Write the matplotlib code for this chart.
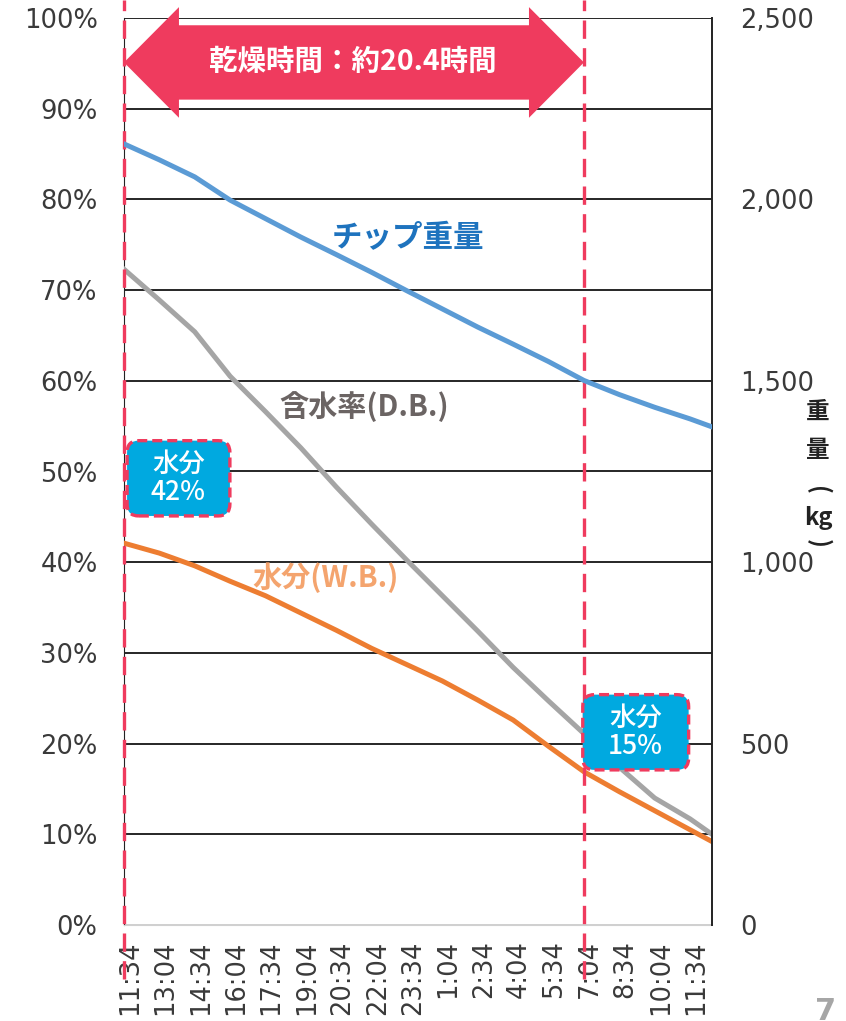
import numpy as np
import matplotlib
matplotlib.use("Agg")
import matplotlib.pyplot as plt
from matplotlib.patches import Polygon, FancyBboxPatch
from matplotlib.transforms import ScaledTranslation

plt.rcParams['font.family'] = ['DejaVu Sans', 'Noto Sans CJK JP']
JP = ['Noto Sans CJK JP', 'DejaVu Sans']

# --- données (heures depuis 11:34) ---
t_heures = [0, 1.5, 3, 4.5, 6, 7.5, 9, 10.5, 12, 13.5, 15, 16.5, 18, 19.5,
            21, 22.5, 24, 24.93]
poids_kg = [2153, 2109, 2062, 1998, 1947, 1896, 1848, 1799, 1748, 1698,
            1648, 1601, 1553, 1501, 1462, 1427, 1395, 1373]
teneur_db = [72.3, 68.9, 65.4, 60.5, 56.6, 52.6, 48.3, 44.2, 40.2, 36.3,
             32.4, 28.4, 24.7, 21.1, 17.4, 14.0, 11.7, 10.0]
teneur_wb = [42.1, 41.0, 39.6, 37.9, 36.3, 34.4, 32.5, 30.5, 28.7, 26.9,
             24.8, 22.6, 19.7, 16.9, 14.7, 12.6, 10.5, 9.2]

ticks_heures = [0, 1.5, 3, 4.5, 6, 7.5, 9, 10.5, 12, 13.5, 15, 16.5, 18,
                19.5, 21, 22.5, 24]
ticks_labels = ["11:34", "13:04", "14:34", "16:04", "17:34", "19:04",
                "20:34", "22:04", "23:34", "1:04", "2:34", "4:04", "5:34",
                "7:04", "8:34", "10:04", "11:34"]
fin_sechage = 19.5  # 7:04

rouge = '#EF3B5E'
cyan = '#00A9E0'
gris_txt = '#3a3a3a'

fig = plt.figure(figsize=(8.46, 10.21), dpi=100)
ax = fig.add_axes([124 / 846, 96 / 1021, 588 / 846, 907 / 1021])
ax2 = ax.twinx()

ax.set_xlim(0, 24.93)
ax.set_ylim(0, 100)
ax2.set_ylim(0, 2500)

ax.set_yticks(range(0, 101, 10))
ax.set_yticklabels([f"{v}%" for v in range(0, 101, 10)])
ax2.set_yticks(range(0, 2501, 500))
ax2.set_yticklabels([f"{v:,}" for v in range(0, 2501, 500)])
ax.set_xticks(ticks_heures)
ax.set_xticklabels(ticks_labels, rotation=90)

ax.tick_params(axis='y', length=0, pad=19, labelsize=18.5, colors=gris_txt,
               labelfontfamily='DejaVu Sans')
ax2.tick_params(axis='y', length=0, pad=20, labelsize=18.5, colors=gris_txt,
                labelfontfamily='DejaVu Sans')
ax.tick_params(axis='x', length=0, pad=11, labelsize=18.5, colors=gris_txt,
               labelfontfamily='DejaVu Sans')
decal = ScaledTranslation(6 / 100, 0, fig.dpi_scale_trans)
for lab in ax.get_xticklabels():
    lab.set_transform(lab.get_transform() + decal)

ax.grid(axis='y', color='#262626', lw=1.4)
ax.get_ygridlines()[0].set_color('#d0d0d0')
ax.set_axisbelow(True)
for s in ['top', 'right']:
    ax.spines[s].set_visible(False)
ax.spines['bottom'].set_color('#d0d0d0')
ax.spines['left'].set_color('#222222')
for s in ['top', 'bottom', 'left']:
    ax2.spines[s].set_visible(False)
ax2.spines['right'].set_color('#222222')
ax2.spines['right'].set_linewidth(1.4)

# --- courbes ---
ax.plot(t_heures, teneur_db, color='#A5A5A5', lw=3.6, solid_joinstyle='round', zorder=3)
ax.plot(t_heures, teneur_wb, color='#ED7D31', lw=3.6, solid_joinstyle='round', zorder=3)
ax2.plot(t_heures, poids_kg, color='#5B9BD5', lw=3.6, solid_joinstyle='round', zorder=3)

# --- lignes pointillées début / fin ---
for xv in [0, fin_sechage]:
    ax.plot([xv, xv], [-6, 102], color=rouge, lw=2.4, dashes=(5.5, 2.8),
            clip_on=False, zorder=4)

# --- double flèche ---
tete = 2.33
fleche = Polygon([(0, 95.1), (tete, 101.2), (tete, 99.2), (fin_sechage - tete, 99.2),
                  (fin_sechage - tete, 101.2), (fin_sechage, 95.1),
                  (fin_sechage - tete, 89.0), (fin_sechage - tete, 91.0),
                  (tete, 91.0), (tete, 89.0)],
                 closed=True, fc=rouge, ec='none', clip_on=False, zorder=5)
ax.add_patch(fleche)
ax.text(fin_sechage / 2 - 0.05, 95.1, "乾燥時間：約20.4時間", family=JP, fontsize=20.5,
        fontweight='bold', color='white', ha='center', va='center', zorder=6)

# --- encadrés ---
aspect = (588 / 24.93) / 9.07
for (x0, y0, w, h, txt) in [(0.13, 45.1, 4.36, 8.3, "水分\n42%"),
                            (19.45, 17.1, 4.49, 8.3, "水分\n15%")]:
    boite = FancyBboxPatch((x0, y0), w, h,
                           boxstyle="round,pad=0,rounding_size=0.5",
                           mutation_aspect=aspect, fc=cyan, ec=rouge, lw=2.4,
                           ls=(0, (3, 1.5)), zorder=7)
    ax.add_patch(boite)
    ax.text(x0 + w / 2, y0 + h / 2, txt, family=JP, fontsize=19, color='white',
            fontweight='medium', ha='center', va='center', linespacing=1.05, zorder=8)

# --- étiquettes des séries ---
ax.text(12.03, 75.7, "チップ重量", family=JP, fontsize=22, fontweight='bold',
        color='#1E73BE', ha='center', va='center', zorder=6)
ax.text(10.17, 57.2, "含水率(D.B.)", family=JP, fontsize=21, fontweight='bold',
        color='#6B6463', ha='center', va='center', zorder=6)
ax.text(8.56, 38.3, "水分(W.B.)", family=JP, fontsize=21, fontweight='bold',
        color='#F4A46E', ha='center', va='center', zorder=6)

# --- titre de l'axe droit (vertical) ---
def px(x, y):
    return x / 846, 1 - y / 1021

for (x, y, s, rot) in [(818, 412, "重", 0), (818, 450, "量", 0), (818, 490, "(", -90),
                       (818, 518, "kg", 0), (818, 543, ")", -90)]:
    fig.text(*px(x, y), s, family=JP, fontsize=17, fontweight='bold', color='#222222',
             ha='center', va='center', rotation=rot)

fig.text(*px(826, 997), "7", fontsize=22, fontweight='bold', color='#a6a6a6',
         ha='center', va='top')

fig.savefig("out.png", dpi=100)
